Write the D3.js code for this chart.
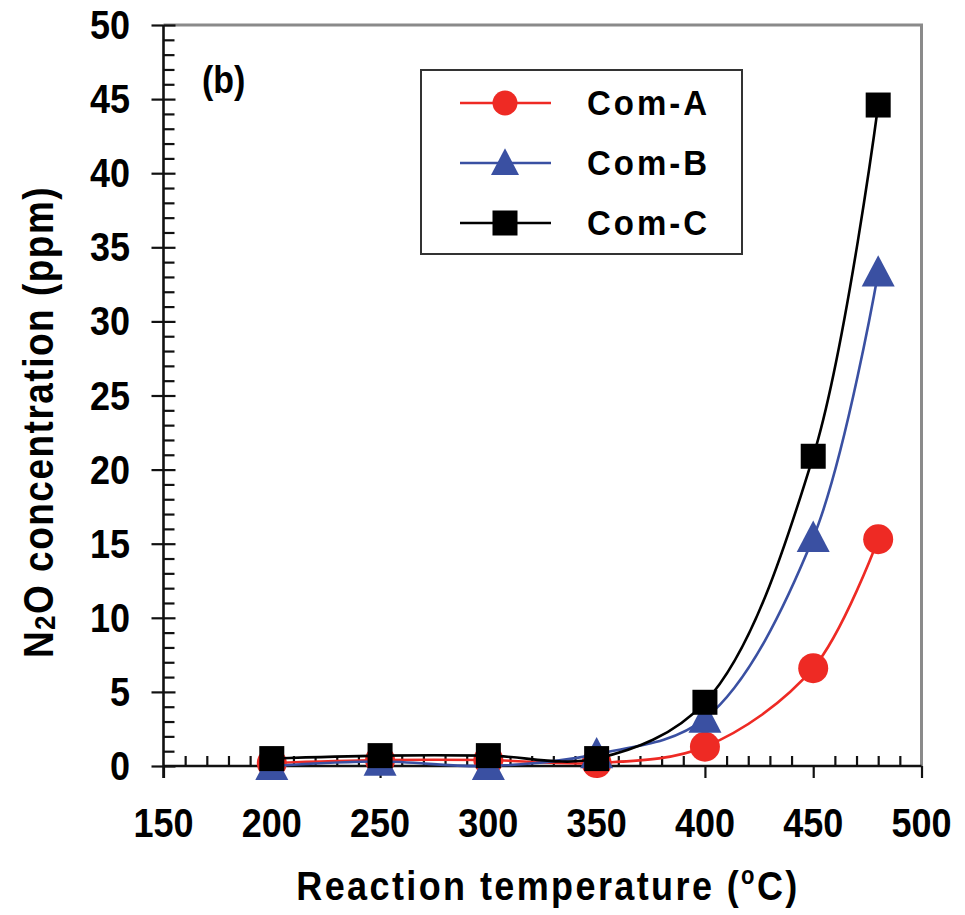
<!DOCTYPE html>
<html>
<head>
<meta charset="utf-8">
<script src="https://cdn.jsdelivr.net/npm/d3@7"></script>
<style>
  body { margin: 0; background: #fff; }
  svg { display: block; }
  text { font-family: "Liberation Sans", Arial, sans-serif; font-weight: bold; fill: #000; }
</style>
</head>
<body>
<svg id="chart" width="965" height="915"></svg>
<script>
const temps = [200, 250, 300, 350, 400, 450, 480];
const comA = [0.2, 0.4, 0.4, 0.2, 1.3, 6.6, 15.3];
const comB = [0.0, 0.3, 0.0, 0.8, 3.2, 15.4, 33.3];
const comC = [0.5, 0.7, 0.7, 0.5, 4.3, 20.9, 44.6];
const xTicks = [150, 200, 250, 300, 350, 400, 450, 500];
const yTicks = [0, 5, 10, 15, 20, 25, 30, 35, 40, 45, 50];
const seriesNames = ["Com-A", "Com-B", "Com-C"];

const series = [
  { name: seriesNames[0], values: comA, color: "#ee2a24", shape: "circle" },
  { name: seriesNames[1], values: comB, color: "#3a50a2", shape: "triangle" },
  { name: seriesNames[2], values: comC, color: "#000000", shape: "square" },
];

const svg = d3.select("#chart");
const SY = 1.12; // glyphs in the original are a bit taller than Arial

const x = d3.scaleLinear().domain([150, 500]).range([163.5, 921.5]);
const y = d3.scaleLinear().domain([0, 50]).range([766, 25]);

// frame (top + right grey)
svg.append("path")
  .attr("d", `M${x(150)},${y(50)}H${x(500)}V${y(0)}`)
  .attr("fill", "none")
  .attr("stroke", "#8a8a8a")
  .attr("stroke-width", 3);

// axes
const axisStyle = (g) => {
  g.select(".domain").remove();
  g.selectAll("line").attr("stroke", "#111").attr("stroke-width", 2.2);
  g.selectAll("text").remove();
};
const xMinor = d3.range(150, 501, 10).filter((v) => v % 50 !== 0);
const yMinor = d3.range(0, 51, 1).filter((v) => v % 5 !== 0);

svg.append("g").attr("transform", `translate(0,${y(0)})`)
  .call(d3.axisBottom(x).tickValues(xTicks).tickSize(12)).call(axisStyle);
svg.append("g").attr("transform", `translate(0,${y(0)})`)
  .call(d3.axisBottom(x).tickValues(xMinor).tickSize(-10)).call(axisStyle);
svg.append("g").attr("transform", `translate(${x(150)},0)`)
  .call(d3.axisLeft(y).tickValues(yTicks).tickSize(12)).call(axisStyle);
svg.append("g").attr("transform", `translate(${x(150)},0)`)
  .call(d3.axisLeft(y).tickValues(yTicks).tickSize(-12)).call(axisStyle);
svg.append("g").attr("transform", `translate(${x(150)},0)`)
  .call(d3.axisLeft(y).tickValues(yMinor).tickSize(-11)).call(axisStyle);

svg.append("line")
  .attr("x1", x(150)).attr("x2", x(500)).attr("y1", y(0)).attr("y2", y(0))
  .attr("stroke", "#111").attr("stroke-width", 2.6);
svg.append("line")
  .attr("x1", x(150)).attr("x2", x(150)).attr("y1", y(0) + 12).attr("y2", y(50))
  .attr("stroke", "#111").attr("stroke-width", 2.6);

// tick labels
svg.append("g").selectAll("text").data(xTicks).join("text")
  .attr("transform", (d) => `translate(${x(d)},837) scale(1,${SY})`)
  .attr("text-anchor", "middle")
  .attr("font-size", 36)
  .text((d) => d);

svg.append("g").selectAll("text").data(yTicks).join("text")
  .attr("transform", (d) => `translate(130,${y(d) + 14}) scale(1,${SY})`)
  .attr("text-anchor", "end")
  .attr("font-size", 36)
  .text((d) => d);

// axis titles
const xTitle = svg.append("text")
  .attr("transform", `translate(548,900) scale(1,1.14)`)
  .attr("text-anchor", "middle")
  .attr("font-size", 36)
  .attr("letter-spacing", 2.4);
xTitle.append("tspan").text("Reaction temperature (");
xTitle.append("tspan").attr("font-size", 22).attr("dy", -14).text("o");
xTitle.append("tspan").attr("dy", 14).text("C)");

const yTitle = svg.append("text")
  .attr("transform", `translate(53,422) rotate(-90) scale(1,1.14)`)
  .attr("text-anchor", "middle")
  .attr("font-size", 37)
  .attr("letter-spacing", 1.5);
yTitle.append("tspan").text("N");
yTitle.append("tspan").attr("font-size", 26).attr("dy", 2).text("2");
yTitle.append("tspan").attr("dy", -2).text("O concentration (ppm)");

svg.append("text")
  .attr("transform", `translate(202,93) scale(1,${SY})`)
  .attr("font-size", 34)
  .text("(b)");

// markers
const drawMarker = (sel, shape, color, size) => {
  if (shape === "circle") {
    sel.append("circle").attr("r", size / 2).attr("fill", color);
  } else if (shape === "square") {
    sel.append("rect")
      .attr("x", -size / 2).attr("y", -size / 2)
      .attr("width", size).attr("height", size)
      .attr("fill", color);
  } else {
    const w = size, h = size * 0.95;
    sel.append("path")
      .attr("d", `M0,${-h * 0.55}L${w / 2},${h * 0.45}L${-w / 2},${h * 0.45}Z`)
      .attr("fill", color);
  }
};
const markerSize = { circle: 30, triangle: 33, square: 25 };
const legendSize = { circle: 25, triangle: 28, square: 25 };

const line = d3.line()
  .x((d) => x(d[0]))
  .y((d) => y(d[1]))
  .curve(d3.curveCatmullRom.alpha(0.5));

series.forEach((s) => {
  const pts = temps.map((t, i) => [t, s.values[i]]);
  const g = svg.append("g");
  g.append("path")
    .attr("d", line(pts))
    .attr("fill", "none")
    .attr("stroke", s.color)
    .attr("stroke-width", 2.6);
  g.selectAll("g.m").data(pts).join("g")
    .attr("class", "m")
    .attr("transform", (d) => `translate(${x(d[0])},${y(d[1])})`)
    .each(function () { drawMarker(d3.select(this), s.shape, s.color, markerSize[s.shape]); });
});

// legend
const lg = svg.append("g");
lg.append("rect")
  .attr("x", 421).attr("y", 70).attr("width", 321).attr("height", 184)
  .attr("fill", "#fff").attr("stroke", "#333").attr("stroke-width", 2);
series.forEach((s, i) => {
  const ry = 103 + i * 60;
  lg.append("line")
    .attr("x1", 460).attr("x2", 551).attr("y1", ry).attr("y2", ry)
    .attr("stroke", s.color).attr("stroke-width", 2.6);
  const m = lg.append("g").attr("transform", `translate(505,${ry})`);
  drawMarker(m, s.shape, s.color, legendSize[s.shape]);
  lg.append("text")
    .attr("transform", `translate(587,${ry + 12}) scale(1,1.06)`)
    .attr("font-size", 33)
    .attr("letter-spacing", 3)
    .text(s.name);
});
</script>
</body>
</html>
